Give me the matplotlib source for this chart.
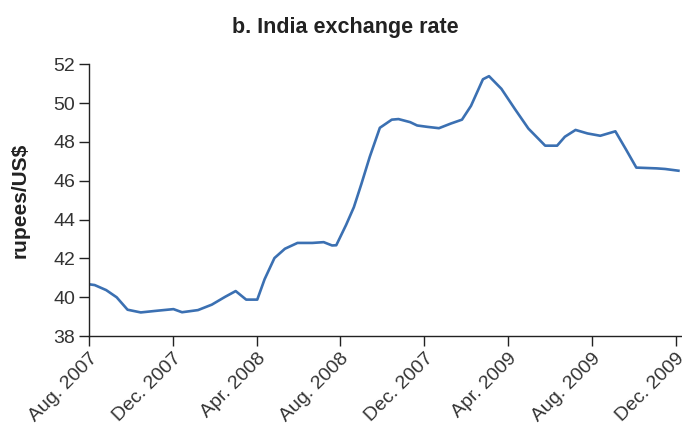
import matplotlib
matplotlib.use("Agg")
import matplotlib.pyplot as plt

# months after Aug. 2007
months = [0.0, 0.27, 0.82, 1.32, 1.84, 2.47, 3.18, 4.03, 4.44, 5.2, 5.86, 6.49,
          7.0, 7.5, 8.03, 8.38, 8.85, 9.35, 9.95, 10.66, 11.2, 11.6, 11.8,
          12.27, 12.64, 13.0, 13.4, 13.88, 14.45, 14.77, 15.33, 15.66, 16.14,
          16.7, 17.27, 17.8, 18.23, 18.8, 19.09, 19.68, 20.33, 20.97, 21.77,
          22.34, 22.71, 23.22, 23.79, 24.4, 25.12, 25.64, 26.12, 27.09, 27.49,
          28.13]
rupees = [40.67, 40.63, 40.37, 40.0, 39.36, 39.22, 39.30, 39.39, 39.23, 39.34,
          39.62, 40.02, 40.32, 39.88, 39.88, 40.93, 42.02, 42.5, 42.8, 42.8,
          42.84, 42.67, 42.68, 43.73, 44.64, 45.84, 47.24, 48.73, 49.15, 49.18,
          49.02, 48.85, 48.78, 48.71, 48.95, 49.15, 49.86, 51.23, 51.39, 50.74,
          49.69, 48.69, 47.81, 47.81, 48.27, 48.62, 48.44, 48.32, 48.55, 47.59,
          46.68, 46.64, 46.61, 46.52]

tick_pos = [0, 4, 8, 12, 16, 20, 24, 28]
tick_labels = ["Aug. 2007", "Dec. 2007", "Apr. 2008", "Aug. 2008",
               "Dec. 2007", "Apr. 2009", "Aug. 2009", "Dec. 2009"]
y_ticks = [38, 40, 42, 44, 46, 48, 50, 52]

plt.rcParams["font.family"] = ["Liberation Sans", "DejaVu Sans"]

fig = plt.figure(figsize=(6.82, 4.26), dpi=100)
ax = fig.add_axes([0.1305, 0.211, 0.8695, 0.638])

ax.plot(months, rupees, color="#3b70b2", linewidth=1.9)

ax.set_xlim(0, 28.3)
ax.set_ylim(38, 52)
ax.set_yticks(y_ticks)
ax.set_xticks(tick_pos)
ax.set_xticklabels(tick_labels, rotation=45, ha="right", rotation_mode="anchor")

for s in ["top", "right"]:
    ax.spines[s].set_visible(False)
for s in ["left", "bottom"]:
    ax.spines[s].set_color("#222222")
    ax.spines[s].set_linewidth(1.0)

ax.tick_params(axis="both", direction="out", length=7, width=1.0,
               color="#222222", labelsize=14, labelcolor="#333333", pad=3)

fig.text(0.507, 0.935, "b. India exchange rate", ha="center", va="center",
         fontsize=15.5, fontweight="bold", color="#222222")
fig.text(0.03, 0.53, "rupees/US$", ha="center", va="center", rotation=90,
         fontsize=15, fontweight="bold", color="#222222")

fig.savefig("out.png", dpi=100)
